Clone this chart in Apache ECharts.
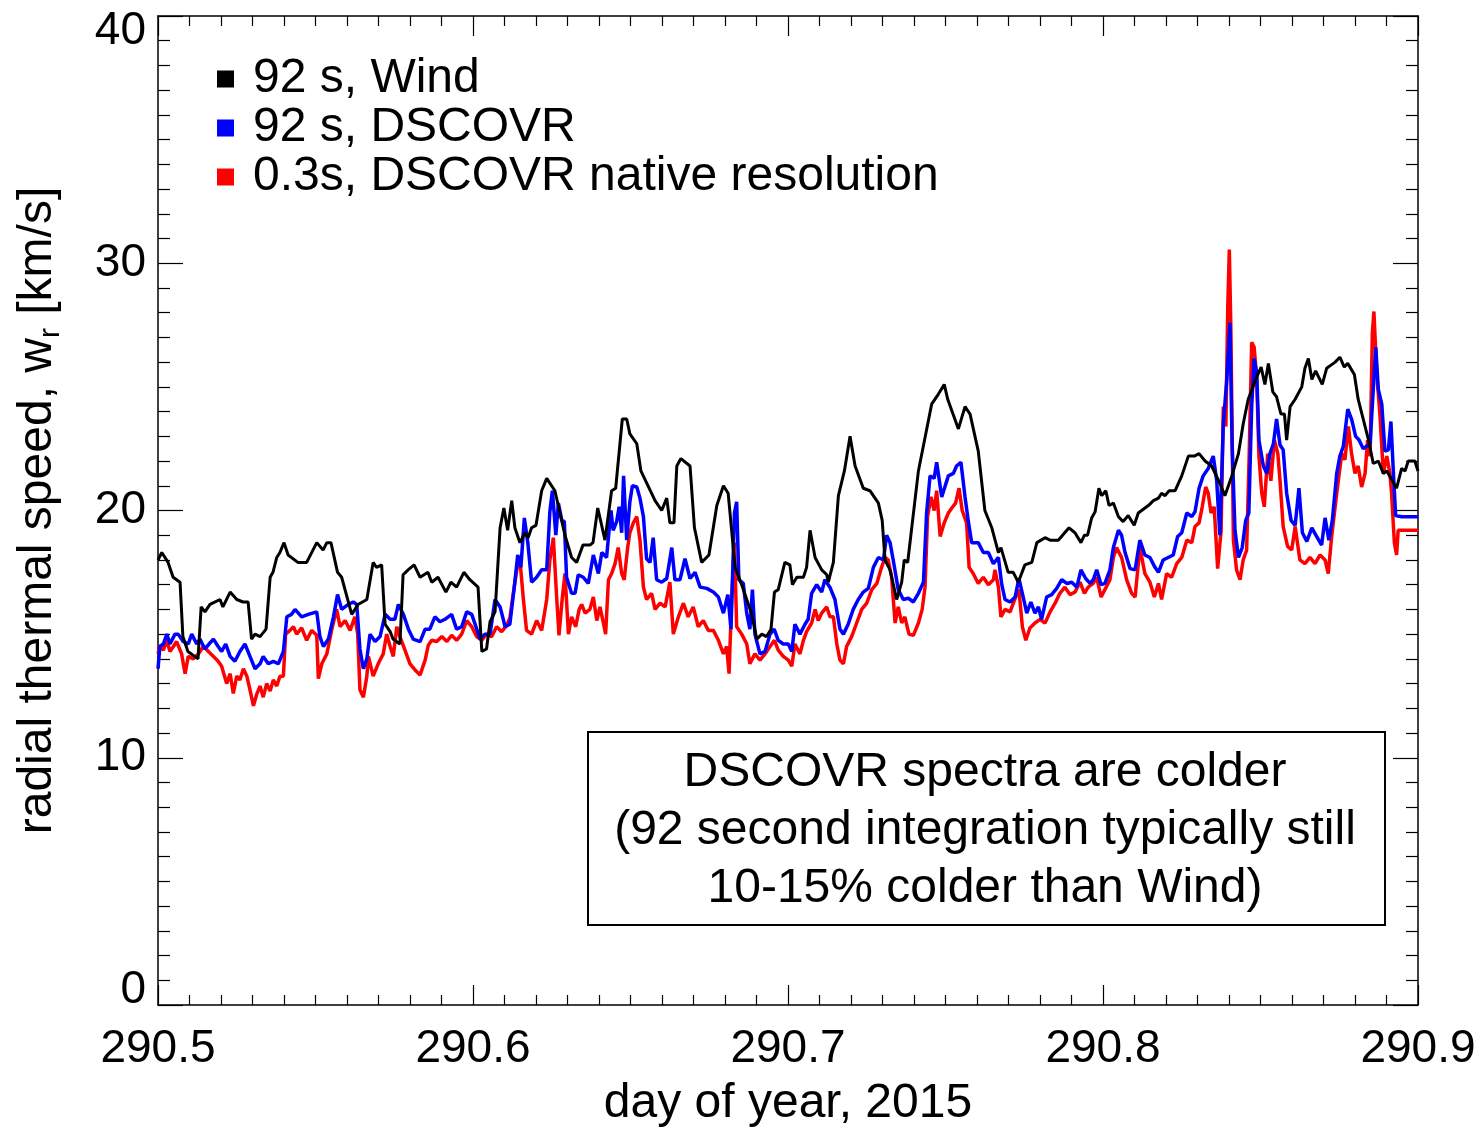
<!DOCTYPE html>
<html><head><meta charset="utf-8">
<script src="https://cdn.jsdelivr.net/npm/echarts@6/dist/echarts.min.js"></script>
<style>html,body{margin:0;padding:0;background:#fff}#c{width:1483px;height:1128px}</style>
</head><body><div id="c"></div>
<script>
// ---- data ----
const seriesNames = ['92 s, Wind', '92 s, DSCOVR', '0.3s, DSCOVR native resolution'];
const xTickValues = [290.5, 290.6, 290.7, 290.8, 290.9];
const yTickValues = [0, 10, 20, 30, 40];
const noteLines = ['DSCOVR spectra are colder', '(92 second integration typically still', '10-15% colder than Wind)'];

const windData = [[290.5000,18.0],[290.5012,18.3],[290.5032,17.9],[290.5048,17.3],[290.5070,17.1],[290.5079,14.9],[290.5095,14.3],[290.5127,14.0],[290.5137,16.1],[290.5149,15.9],[290.5165,16.2],[290.5197,16.4],[290.5206,16.1],[290.5229,16.7],[290.5250,16.4],[290.5270,16.3],[290.5286,16.3],[290.5297,14.8],[290.5308,15.0],[290.5324,14.9],[290.5343,15.2],[290.5356,17.3],[290.5365,17.5],[290.5377,18.1],[290.5387,18.3],[290.5400,18.7],[290.5413,18.2],[290.5444,17.9],[290.5472,17.9],[290.5504,18.7],[290.5524,18.4],[290.5536,18.7],[290.5549,18.7],[290.5570,17.5],[290.5583,17.3],[290.5615,15.8],[290.5635,16.2],[290.5663,16.4],[290.5683,17.9],[290.5694,17.7],[290.5710,17.8],[290.5721,15.4],[290.5737,15.1],[290.5746,14.8],[290.5768,14.6],[290.5778,17.4],[290.5794,17.6],[290.5813,17.8],[290.5832,17.3],[290.5857,17.5],[290.5869,17.1],[290.5889,17.3],[290.5914,16.7],[290.5930,17.1],[290.5948,16.9],[290.5971,17.5],[290.5990,17.2],[290.6016,16.9],[290.6028,14.3],[290.6043,14.4],[290.6054,15.5],[290.6070,15.9],[290.6086,19.3],[290.6098,20.1],[290.6110,19.2],[290.6123,20.4],[290.6133,19.3],[290.6149,18.7],[290.6165,19.1],[290.6175,18.9],[290.6186,19.3],[290.6200,19.4],[290.6218,20.8],[290.6234,21.3],[290.6260,20.8],[290.6276,19.9],[290.6292,19.0],[290.6313,18.1],[290.6329,17.9],[290.6349,18.6],[290.6371,18.6],[290.6381,18.7],[290.6396,20.1],[290.6419,18.8],[290.6440,20.8],[290.6453,20.9],[290.6474,23.7],[290.6488,23.7],[290.6498,23.1],[290.6520,22.7],[290.6533,21.6],[290.6578,20.4],[290.6599,20.0],[290.6615,20.5],[290.6625,19.5],[290.6638,19.5],[290.6647,21.8],[290.6660,22.1],[290.6689,21.8],[290.6703,19.3],[290.6726,17.9],[290.6749,18.2],[290.6774,20.2],[290.6795,21.0],[290.6810,20.7],[290.6832,17.7],[290.6853,17.0],[290.6885,15.8],[290.6901,14.8],[290.6917,15.0],[290.6932,14.9],[290.6946,15.2],[290.6957,16.7],[290.6969,16.8],[290.6990,17.9],[290.7006,17.8],[290.7014,17.0],[290.7028,17.3],[290.7049,17.3],[290.7059,17.7],[290.7070,19.2],[290.7086,18.1],[290.7107,17.6],[290.7123,17.4],[290.7128,17.1],[290.7144,17.9],[290.7160,20.6],[290.7179,21.6],[290.7197,23.0],[290.7213,21.8],[290.7239,20.9],[290.7260,20.8],[290.7287,20.3],[290.7299,19.6],[290.7308,18.0],[290.7324,17.6],[290.7345,16.4],[290.7361,17.1],[290.7369,18.0],[290.7380,17.9],[290.7414,21.6],[290.7456,24.3],[290.7477,24.7],[290.7496,25.1],[290.7507,24.5],[290.7541,23.3],[290.7562,24.2],[290.7578,23.9],[290.7604,22.4],[290.7625,20.0],[290.7647,19.3],[290.7668,18.3],[290.7676,18.5],[290.7699,17.5],[290.7715,17.5],[290.7731,17.1],[290.7752,17.8],[290.7774,17.9],[290.7790,18.7],[290.7816,18.9],[290.7832,18.8],[290.7858,18.8],[290.7892,19.3],[290.7911,19.1],[290.7930,18.7],[290.7941,19.0],[290.7951,19.0],[290.7964,19.7],[290.7975,19.95],[290.7987,20.9],[290.7996,20.6],[290.8009,20.8],[290.8019,20.2],[290.8033,20.3],[290.8049,19.75],[290.8064,19.55],[290.8080,19.8],[290.8099,19.4],[290.8112,19.9],[290.8144,20.2],[290.8160,20.4],[290.8176,20.5],[290.8186,20.7],[290.8197,20.6],[290.8210,20.8],[290.8229,20.8],[290.8250,21.4],[290.8271,22.2],[290.8290,22.2],[290.8305,22.3],[290.8324,22.0],[290.8345,21.8],[290.8371,21.1],[290.8387,20.6],[290.8409,21.4],[290.8430,22.3],[290.8445,23.5],[290.8461,24.5],[290.8488,25.4],[290.8502,25.8],[290.8514,25.1],[290.8525,25.95],[290.8539,24.8],[290.8551,24.6],[290.8565,23.9],[290.8576,23.9],[290.8583,22.85],[290.8594,24.2],[290.8610,24.5],[290.8631,25.0],[290.8641,25.75],[290.8652,26.15],[290.8663,25.3],[290.8675,25.65],[290.8696,25.1],[290.8710,25.75],[290.8726,25.9],[290.8737,26.0],[290.8752,26.2],[290.8766,25.8],[290.8777,25.95],[290.8798,25.5],[290.8810,24.5],[290.8842,22.9],[290.8858,21.9],[290.8874,22.0],[290.8890,21.5],[290.8901,21.6],[290.8932,20.9],[290.8948,21.7],[290.8959,21.6],[290.8969,22.0],[290.8990,22.0],[290.9000,21.6]];

const dscovr92Data = [[290.5000,13.6],[290.5006,14.5],[290.5017,14.6],[290.5028,15.0],[290.5038,14.6],[290.5054,15.0],[290.5064,15.0],[290.5080,14.7],[290.5096,14.6],[290.5107,15.0],[290.5123,14.6],[290.5133,14.8],[290.5149,14.4],[290.5162,14.6],[290.5176,14.8],[290.5191,14.5],[290.5202,14.3],[290.5215,14.6],[290.5229,14.1],[290.5244,13.9],[290.5260,14.3],[290.5276,14.6],[290.5292,14.1],[290.5308,13.6],[290.5324,13.8],[290.5334,14.1],[290.5350,13.8],[290.5366,13.9],[290.5382,13.8],[290.5398,14.3],[290.5409,15.7],[290.5424,15.8],[290.5435,16.0],[290.5456,15.7],[290.5477,15.8],[290.5504,15.9],[290.5514,14.9],[290.5525,14.5],[290.5541,14.8],[290.5557,15.7],[290.5570,16.6],[290.5583,16.0],[290.5604,16.2],[290.5620,16.3],[290.5631,16.2],[290.5641,14.4],[290.5652,13.6],[290.5663,14.0],[290.5673,15.0],[290.5689,14.7],[290.5705,14.9],[290.5721,15.8],[290.5737,15.6],[290.5752,15.6],[290.5763,16.2],[290.5779,15.8],[290.5795,15.2],[290.5810,14.8],[290.5832,14.7],[290.5848,15.2],[290.5863,15.2],[290.5879,15.7],[290.5895,15.5],[290.5911,15.6],[290.5932,15.8],[290.5948,15.2],[290.5964,15.3],[290.5980,15.9],[290.5996,15.8],[290.6012,15.2],[290.6022,14.8],[290.6038,15.0],[290.6054,15.0],[290.6070,16.4],[290.6086,16.1],[290.6102,15.3],[290.6117,15.4],[290.6131,16.9],[290.6142,18.2],[290.6152,17.7],[290.6163,19.7],[290.6174,18.7],[290.6186,17.1],[290.6202,17.3],[290.6218,17.6],[290.6234,17.6],[290.6244,19.95],[290.6252,20.8],[290.6263,19.0],[290.6271,20.3],[290.6282,19.6],[290.6290,19.55],[290.6297,17.3],[290.6313,16.65],[290.6324,16.65],[290.6334,17.4],[290.6350,17.3],[290.6366,17.05],[290.6382,18.2],[290.6398,17.45],[290.6409,18.3],[290.6424,18.1],[290.6438,20.0],[290.6445,19.2],[290.6456,19.55],[290.6464,20.15],[290.6472,19.1],[290.6478,21.4],[290.6488,18.8],[290.6498,20.35],[290.6506,21.0],[290.6520,20.95],[290.6530,20.5],[290.6541,19.75],[290.6551,18.05],[290.6562,17.9],[290.6572,18.9],[290.6583,17.2],[290.6599,17.1],[290.6615,17.25],[290.6631,18.5],[290.6641,17.2],[290.6657,17.2],[290.6673,18.05],[290.6689,17.25],[290.6705,17.5],[290.6721,16.9],[290.6742,16.85],[290.6763,16.7],[290.6779,16.5],[290.6795,15.85],[290.6809,16.6],[290.6819,15.2],[290.6830,19.9],[290.6837,20.35],[290.6844,17.2],[290.6858,17.05],[290.6869,15.85],[290.6879,15.2],[290.6887,16.8],[290.6895,15.0],[290.6911,14.2],[290.6927,14.3],[290.6943,15.0],[290.6956,15.2],[290.6969,14.75],[290.6985,14.6],[290.7001,14.6],[290.7012,14.3],[290.7022,15.4],[290.7038,15.0],[290.7054,15.4],[290.7064,15.6],[290.7075,16.65],[290.7091,17.0],[290.7107,16.7],[290.7117,17.2],[290.7133,16.9],[290.7149,16.4],[290.7165,15.2],[290.7176,15.0],[290.7191,15.4],[290.7207,16.0],[290.7223,16.4],[290.7239,16.7],[290.7255,16.85],[290.7271,17.7],[290.7287,18.1],[290.7303,18.0],[290.7313,19.0],[290.7324,18.7],[290.7334,18.0],[290.7350,16.8],[290.7366,16.4],[290.7382,16.45],[290.7398,16.3],[290.7414,16.65],[290.7430,17.1],[290.7440,19.9],[290.7451,21.4],[290.7464,21.3],[290.7472,21.95],[290.7488,20.55],[290.7509,21.4],[290.7525,21.5],[290.7535,21.8],[290.7549,21.95],[290.7562,20.55],[290.7572,19.6],[290.7583,18.7],[290.7604,18.7],[290.7620,18.3],[290.7636,18.3],[290.7652,17.85],[290.7668,18.1],[290.7678,17.05],[290.7689,16.4],[290.7705,16.3],[290.7721,16.5],[290.7733,17.25],[290.7744,16.65],[290.7758,15.85],[290.7771,16.3],[290.7784,15.85],[290.7795,16.1],[290.7805,15.6],[290.7821,16.5],[290.7837,16.6],[290.7853,16.85],[290.7869,17.2],[290.7885,17.05],[290.7901,17.1],[290.7917,16.9],[290.7930,17.6],[290.7945,17.25],[290.7959,17.05],[290.7969,17.2],[290.7980,17.6],[290.7994,17.0],[290.8006,17.05],[290.8022,17.6],[290.8033,18.5],[290.8049,19.2],[290.8059,19.0],[290.8070,18.3],[290.8086,17.65],[290.8102,17.6],[290.8117,18.8],[290.8133,18.2],[290.8149,18.1],[290.8165,17.7],[290.8176,17.5],[290.8191,18.0],[290.8207,18.1],[290.8223,18.2],[290.8237,18.95],[290.8250,19.1],[290.8266,19.9],[290.8282,19.75],[290.8292,19.95],[290.8305,20.9],[290.8318,21.4],[290.8334,21.7],[290.8350,22.2],[290.8361,21.2],[290.8371,19.0],[290.8382,23.5],[290.8393,25.3],[290.8403,27.6],[290.8410,22.6],[290.8419,19.2],[290.8430,18.1],[290.8442,18.5],[290.8453,19.6],[290.8463,19.9],[290.8472,24.2],[290.8480,26.15],[290.8488,25.55],[290.8495,22.85],[290.8509,21.8],[290.8520,21.5],[290.8530,22.3],[290.8541,22.7],[290.8551,23.7],[290.8562,22.65],[290.8572,22.45],[290.8583,20.7],[290.8597,19.6],[290.8610,19.4],[290.8622,20.9],[290.8633,19.1],[290.8647,18.75],[290.8663,19.3],[290.8678,18.95],[290.8694,18.6],[290.8705,19.7],[290.8717,18.8],[290.8728,19.6],[290.8742,21.5],[290.8752,22.2],[290.8763,22.6],[290.8777,24.1],[290.8789,23.7],[290.8802,23.0],[290.8813,22.85],[290.8826,22.5],[290.8837,22.6],[290.8848,22.7],[290.8858,24.9],[290.8866,26.6],[290.8874,24.9],[290.8885,24.3],[290.8895,22.4],[290.8906,22.45],[290.8914,23.6],[290.8922,21.5],[290.8929,19.8],[290.8948,19.75],[290.9000,19.75]];

const dscovrNativeData = [[290.5000,14.2],[290.5006,14.55],[290.5017,14.35],[290.5028,14.75],[290.5038,14.3],[290.5049,14.5],[290.5059,14.7],[290.5075,14.2],[290.5086,13.4],[290.5096,14.1],[290.5112,14.0],[290.5128,14.2],[290.5144,14.5],[290.5160,14.3],[290.5176,14.1],[290.5191,13.9],[290.5202,13.7],[290.5218,13.0],[290.5229,13.4],[290.5239,12.6],[290.5250,13.3],[290.5260,13.15],[290.5271,13.6],[290.5282,13.3],[290.5292,12.75],[290.5303,12.1],[290.5313,12.55],[290.5324,12.9],[290.5334,12.45],[290.5345,13.0],[290.5356,12.7],[290.5366,13.15],[290.5377,12.9],[290.5387,13.3],[290.5398,13.3],[290.5405,15.0],[290.5419,15.15],[290.5430,15.3],[290.5440,15.0],[290.5456,15.25],[290.5472,14.75],[290.5488,15.15],[290.5504,14.95],[290.5509,13.2],[290.5520,13.8],[290.5536,14.2],[290.5551,15.15],[290.5567,16.0],[290.5578,15.3],[290.5594,15.55],[290.5610,15.15],[290.5625,15.7],[290.5634,15.0],[290.5641,12.75],[290.5652,12.45],[290.5663,13.3],[290.5668,14.1],[290.5683,13.3],[290.5699,13.8],[290.5715,14.2],[290.5726,15.0],[290.5737,14.5],[290.5747,14.1],[290.5758,15.3],[290.5768,14.9],[290.5784,14.35],[290.5800,13.8],[290.5816,13.55],[290.5832,13.35],[290.5848,13.95],[290.5858,14.55],[290.5869,14.75],[290.5885,14.7],[290.5901,14.9],[290.5917,14.7],[290.5932,14.95],[290.5948,14.75],[290.5964,15.0],[290.5980,15.55],[290.5996,15.3],[290.6012,14.9],[290.6028,14.75],[290.6043,15.0],[290.6059,14.9],[290.6075,15.3],[290.6091,15.1],[290.6107,15.35],[290.6117,15.65],[290.6128,16.65],[290.6139,17.6],[290.6149,18.0],[290.6160,16.4],[290.6170,15.15],[290.6186,15.0],[290.6202,15.55],[290.6218,15.15],[290.6234,16.4],[290.6244,18.0],[290.6255,18.9],[290.6266,16.4],[290.6273,14.95],[290.6283,16.4],[290.6292,17.45],[290.6303,15.0],[290.6313,15.7],[290.6326,15.3],[290.6337,16.0],[290.6345,16.2],[290.6356,15.85],[290.6371,16.0],[290.6382,16.5],[290.6393,15.55],[290.6403,16.1],[290.6414,15.45],[290.6421,15.0],[290.6430,17.2],[290.6440,17.45],[290.6451,17.85],[290.6461,18.5],[290.6472,17.45],[290.6480,17.2],[290.6491,18.5],[290.6498,19.1],[290.6509,19.5],[290.6520,19.75],[290.6530,18.8],[290.6541,16.9],[290.6551,16.4],[290.6567,16.65],[290.6578,16.0],[290.6594,16.25],[290.6610,16.1],[290.6625,17.1],[290.6636,15.0],[290.6652,15.7],[290.6668,16.25],[290.6683,15.7],[290.6699,16.1],[290.6715,15.3],[290.6731,15.55],[290.6747,15.15],[290.6763,15.15],[290.6779,14.75],[290.6795,14.2],[290.6805,14.5],[290.6813,13.4],[290.6821,16.4],[290.6830,18.7],[290.6837,15.3],[290.6853,15.0],[290.6869,14.6],[290.6879,13.8],[290.6895,14.2],[290.6911,13.95],[290.6927,14.2],[290.6943,14.5],[290.6957,14.75],[290.6969,14.35],[290.6985,14.1],[290.7001,13.95],[290.7012,13.7],[290.7022,14.6],[290.7038,14.2],[290.7049,14.75],[290.7059,15.1],[290.7075,15.45],[290.7086,16.0],[290.7096,15.55],[290.7107,15.85],[290.7123,16.1],[290.7133,15.7],[290.7144,15.7],[290.7155,14.6],[290.7165,13.95],[290.7176,13.8],[290.7186,14.5],[290.7202,14.9],[290.7218,15.45],[290.7234,16.0],[290.7250,16.25],[290.7266,16.8],[290.7282,17.05],[290.7297,17.7],[290.7308,18.1],[290.7318,18.0],[290.7329,17.3],[290.7340,15.45],[290.7350,16.1],[290.7361,15.45],[290.7371,15.7],[290.7384,15.0],[290.7398,14.95],[290.7414,15.45],[290.7426,16.0],[290.7435,16.9],[290.7443,19.75],[290.7454,20.55],[290.7464,20.0],[290.7472,20.8],[290.7483,18.95],[290.7496,19.5],[290.7509,19.9],[290.7520,20.1],[290.7532,20.3],[290.7543,20.9],[290.7553,20.0],[290.7567,19.5],[290.7575,17.7],[290.7588,17.45],[290.7604,17.05],[290.7620,17.3],[290.7636,17.0],[290.7652,17.2],[290.7657,17.6],[290.7668,16.9],[290.7676,15.7],[290.7689,16.0],[290.7705,15.9],[290.7721,16.45],[290.7733,16.8],[290.7744,15.3],[290.7755,14.75],[290.7768,15.25],[290.7784,15.45],[290.7800,15.6],[290.7816,15.45],[290.7832,15.9],[290.7848,16.25],[290.7863,16.65],[290.7879,16.9],[290.7895,16.6],[290.7911,16.7],[290.7927,17.1],[290.7941,16.65],[290.7953,16.9],[290.7969,17.05],[290.7980,17.3],[290.7994,16.5],[290.8006,16.8],[290.8022,17.2],[290.8033,18.1],[290.8043,18.5],[290.8059,18.1],[290.8075,17.2],[290.8091,16.65],[290.8102,16.5],[290.8117,18.5],[290.8133,17.45],[290.8149,17.1],[290.8163,16.5],[290.8176,17.05],[290.8186,16.4],[290.8202,17.45],[290.8218,17.3],[290.8234,17.85],[290.8250,18.1],[290.8266,18.8],[290.8282,18.7],[290.8292,19.35],[290.8305,19.5],[290.8315,20.15],[290.8326,20.95],[290.8334,20.7],[290.8343,19.9],[290.8353,20.15],[290.8364,17.65],[290.8375,19.2],[290.8382,24.2],[290.8390,23.4],[290.8396,28.2],[290.8401,30.55],[290.8406,27.3],[290.8414,18.8],[290.8424,17.6],[290.8435,17.2],[290.8445,18.0],[290.8456,18.4],[290.8464,22.2],[290.8472,26.8],[290.8480,26.6],[290.8488,25.3],[290.8495,22.2],[290.8504,20.7],[290.8512,20.15],[290.8523,22.3],[290.8533,21.2],[290.8544,22.85],[290.8555,22.3],[290.8562,21.2],[290.8572,19.35],[290.8586,18.55],[290.8599,18.4],[290.8610,19.35],[290.8625,18.0],[290.8641,17.85],[290.8657,18.1],[290.8673,17.85],[290.8689,18.2],[290.8705,18.0],[290.8715,17.45],[290.8726,18.95],[290.8742,20.7],[290.8758,22.3],[290.8768,22.05],[290.8779,23.4],[290.8789,22.3],[290.8800,21.5],[290.8810,21.8],[290.8821,20.95],[290.8832,21.5],[290.8840,22.85],[290.8848,22.2],[290.8855,27.15],[290.8860,28.05],[290.8869,25.55],[290.8879,23.9],[290.8890,21.5],[290.8901,22.2],[290.8911,21.5],[290.8916,20.7],[290.8925,18.7],[290.8932,18.2],[290.8937,19.2],[290.9000,19.2]];

// ---- chart ----
const FONT = '"Liberation Sans", Arial, Helvetica, sans-serif';
const chart = echarts.init(document.getElementById('c'), null, {renderer: 'canvas'});

function xAxisCfg(pos, showLabel) {
  return {
    type: 'value', position: pos, min: xTickValues[0], max: xTickValues[xTickValues.length - 1], interval: 0.1,
    axisLine: {show: true, onZero: false, lineStyle: {color: '#000', width: 1.5}},
    axisTick: {show: true, inside: true, length: 20, lineStyle: {color: '#000', width: 1.2}},
    minorTick: {show: true, splitNumber: 10, length: 10, lineStyle: {color: '#000', width: 1.2}},
    splitLine: {show: false}, minorSplitLine: {show: false},
    axisLabel: {show: showLabel, fontSize: 46, color: '#000', fontFamily: FONT, margin: 21,
      formatter: v => v.toFixed(1)},
    name: showLabel ? 'day of year, 2015' : '', nameLocation: 'middle', nameGap: 75,
    nameTextStyle: {fontSize: 48, color: '#000', fontFamily: FONT}
  };
}
function yAxisCfg(pos, showLabel) {
  return {
    type: 'value', position: pos, min: yTickValues[0], max: yTickValues[yTickValues.length - 1], interval: 10,
    axisLine: {show: true, onZero: false, lineStyle: {color: '#000', width: 1.5}},
    axisTick: {show: true, inside: true, length: 25, lineStyle: {color: '#000', width: 1.2}},
    minorTick: {show: true, splitNumber: 10, length: 12, lineStyle: {color: '#000', width: 1.2}},
    splitLine: {show: false}, minorSplitLine: {show: false},
    axisLabel: {show: showLabel, fontSize: 46, color: '#000', fontFamily: FONT, margin: 12, lineHeight: 30,
      verticalAlignMinLabel: 'bottom', verticalAlignMaxLabel: 'top'},
    name: showLabel ? '{a|radial thermal speed, w}{b|r}{a| [km/s]}' : '',
    nameLocation: 'middle', nameRotate: 90, nameGap: 92,
    nameTextStyle: {color: '#000', fontFamily: FONT, rich: {
      a: {fontSize: 48, color: '#000', fontFamily: FONT, lineHeight: 56},
      b: {fontSize: 30, color: '#000', fontFamily: FONT, lineHeight: 30, verticalAlign: 'bottom'}
    }}
  };
}

const option = {
  animation: false,
  backgroundColor: '#fff',
  grid: {left: 158, right: 65, top: 16, bottom: 123, containLabel: false, outerBoundsMode: 'none'},
  xAxis: [xAxisCfg('bottom', true), xAxisCfg('top', false)],
  yAxis: [yAxisCfg('left', true), yAxisCfg('right', false)],
  legend: {
    data: seriesNames, orient: 'vertical', left: 212, top: 50,
    icon: 'rect', itemWidth: 17, itemHeight: 17, itemGap: 1,
    textStyle: {fontSize: 48, color: '#000', fontFamily: FONT, lineHeight: 44, padding: [0, 0, 0, 14]}
  },
  series: [
    {type: 'line', name: seriesNames[0], data: windData, symbol: 'none', z: 5,
      lineStyle: {color: '#000', width: 3}, itemStyle: {color: '#000'}},
    {type: 'line', name: seriesNames[1], data: dscovr92Data, symbol: 'none', z: 4,
      lineStyle: {color: '#0000ff', width: 3.5}, itemStyle: {color: '#0000ff'}},
    {type: 'line', name: seriesNames[2], data: dscovrNativeData, symbol: 'none', z: 3,
      lineStyle: {color: '#ff0000', width: 3.5}, itemStyle: {color: '#ff0000'}}
  ],
  graphic: [
    {type: 'rect', left: 587, top: 731, z: 10,
      shape: {width: 797, height: 193}, style: {fill: 'rgba(0,0,0,0)', stroke: '#000', lineWidth: 2}},
    {type: 'text', x: 985, y: 831, z: 11,
      style: {text: noteLines.join('\n'), align: 'center', verticalAlign: 'middle',
        fontSize: 48, fontFamily: FONT, lineHeight: 58, fill: '#000'}}
  ]
};
chart.setOption(option);
</script>
</body></html>
